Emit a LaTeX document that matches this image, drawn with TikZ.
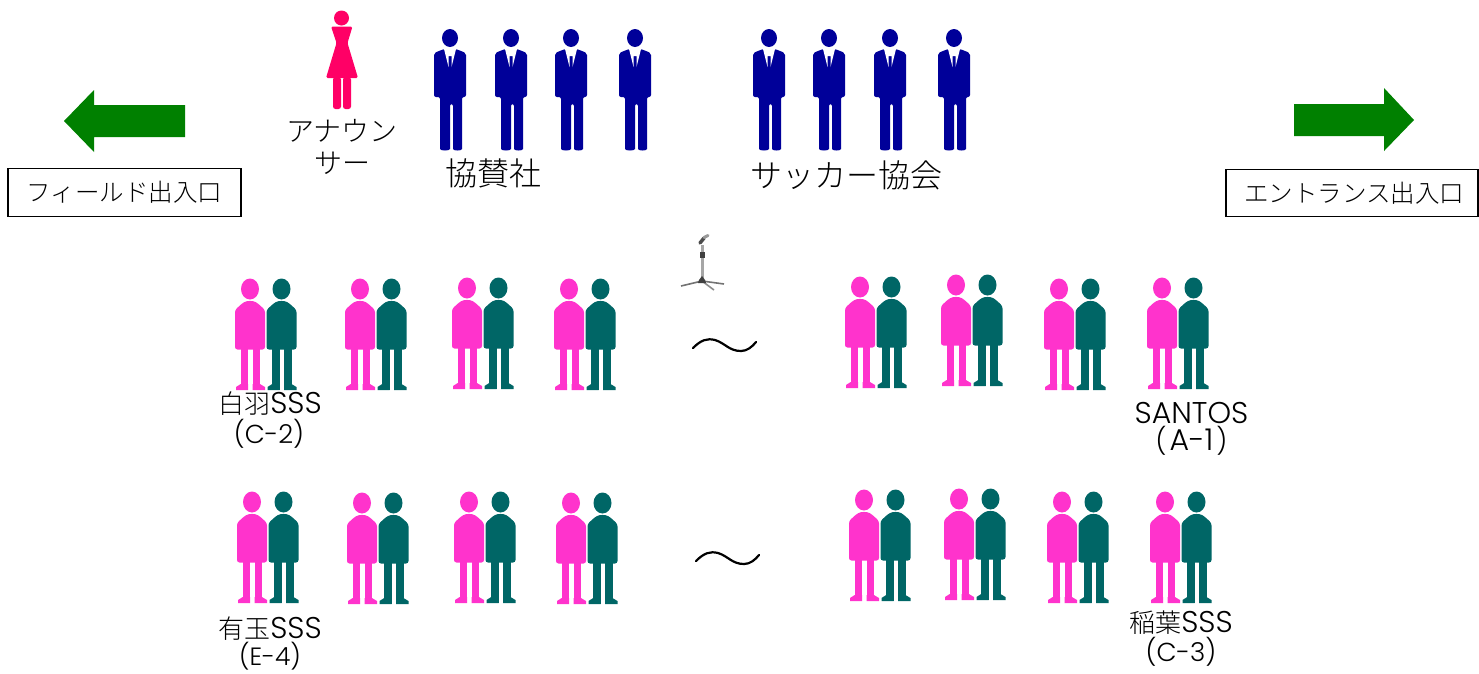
\documentclass[tikz,border=0pt]{standalone}
\usepackage{fontspec}
\setmainfont{Noto Sans CJK JP Light}
\newfontfamily\latinf{Poppins Light}
\newcommand{\lat}[1]{{\fontsize{30}{30}\selectfont\latinf #1}}
\definecolor{navyman}{HTML}{000099}
\definecolor{rosewoman}{HTML}{FF0066}
\definecolor{pinkp}{HTML}{FF33CC}
\definecolor{tealp}{HTML}{006666}
\definecolor{greenarrow}{HTML}{008000}
\tikzset{
 lbl/.style={inner sep=0pt,align=center,text=black,font=\fontsize{#1}{#1}\selectfont},
 lbl/.default=24,
 labelbox/.style={draw=black,line width=1.5pt,fill=white,inner sep=0pt},
 person/.pic={
  \fill[#1] (0,0) ellipse[x radius=9,y radius=10.5];
  \fill[#1,rounded corners=2.5pt] (-15,21) -- (-8,14.5) .. controls (-3,11.5) and (3,11.5) .. (8,14.5) -- (15,21) -- (15,60.5) -- (-15,60.5) -- cycle;
  \fill[#1] (-9.3,58) rectangle (-2,101);
  \fill[#1] (2.7,58) rectangle (10,101);
  \fill[#1] (-14,101) -- (-14,98) -- (-9.3,95) -- (-2,95) -- (-2,101) -- cycle;
  \fill[#1] (15,101) -- (15,98) -- (10,95) -- (2.7,95) -- (2.7,101) -- cycle;
 },
 man/.pic={
  \fill[navyman] (0,0) ellipse[x radius=8,y radius=9];
  \fill[navyman,rounded corners=2pt] (-16,15) -- (-6,11) -- (6,11) -- (16,15) -- (16,59) -- (12,59) -- (12,109) .. controls (12,113) and (3,113) .. (3,109) -- (3,66) -- (0,66) -- (0,109) .. controls (0,113) and (-10,113) .. (-10,109) -- (-10,59) -- (-16,59) -- cycle;
  \fill[white] (-6,11) -- (6,11) -- (1.5,29) -- (1.5,18) -- (-1.5,18) -- (-1.5,29) -- cycle;
 },
 woman/.pic={
  \fill[rosewoman] (0,0) circle[radius=7.5];
  \fill[rosewoman,rounded corners=1.5pt] (-10.5,8.5) -- (11,8.5) -- (6,25) -- (16.5,60) -- (-15.5,60) -- (-5,25) -- cycle;
  \fill[rosewoman,rounded corners=2.5pt] (-8.5,59) -- (-0.5,59) -- (-0.5,91) -- (-8.5,91) -- cycle;
  \fill[rosewoman,rounded corners=2.5pt] (1.5,59) -- (9.5,59) -- (9.5,91) -- (1.5,91) -- cycle;
 },
 tilde/.pic={
  \draw[line width=2.2pt,line cap=round] (0,0) .. controls (8,-8) and (14,-10) .. (22,-8) .. controls (32,-5) and (36,3) .. (48,3) .. controls (54,3) and (59,-1) .. (63,-6);
 },
 pics/pairfig/.style={code={
  \pic at (0,0) {person=pinkp};
  \pic at (31.5,0) {person=tealp};
 }},
}
\begin{document}
\begin{tikzpicture}[x=1pt,y=-1pt]
\useasboundingbox (0,0) rectangle (1479,673);
% arrows
\fill[greenarrow] (185,105) -- (94,105) -- (94,90) -- (64,121) -- (94,152) -- (94,137) -- (185,137) -- cycle;
\fill[greenarrow] (1294,104) -- (1384,104) -- (1384,88) -- (1414,120) -- (1384,151) -- (1384,136) -- (1294,136) -- cycle;
% boxes
\node[labelbox,lbl=24.5,minimum width=233pt,minimum height=48pt] (fieldgate) at (124.5,192.5) {フィールド出入口};
\node[labelbox,lbl=24.5,minimum width=252pt,minimum height=47pt] (entrancegate) at (1352,193) {\hspace*{4pt}エントランス出入口};
% announcer and men
\pic at (341.5,18) {woman};
\foreach \x in {450,511,571,635,769,829,890,954} \pic at (\x,38) {man};
% labels top
\node[lbl=28] (announcer) at (342,147) {アナウン\\[4pt]サー};
\node[lbl=32] (sponsor) at (493,173) {協賛社};
\node[lbl=32] (association) at (846,175) {サッカー協会};
% mic
\draw[black!35,line width=3pt] (702,245) -- (702,279);
\draw[black!55,line width=1.6pt] (681,286) -- (702,281) -- (724,284);
\draw[black!45,line width=1.6pt] (702,281) -- (714,290);
\fill[black!75] (700,252) rectangle (704.5,258);
\fill[black!75] (699,280) -- (702,276) -- (705,280) -- (706,283) -- (698,283) -- cycle;
\draw[black!70,line width=3.5pt,line cap=round] (700,243) -- (704,238);
\draw[black!40,line width=3pt,line cap=round] (704,237.5) -- (708,235.5);
% tildes
\pic at (693,348) {tilde};
\pic at (696,561) {tilde};
% row 1
\foreach \x/\y in {250/289,360/289,467/288,569/289,860/287,956/285,1059/289,1162/288} \pic at (\x,\y) {pairfig};
% row 2
\foreach \x/\y in {252/502,362/503,469/502,571/503,864/500,959/499,1062/502,1165/502} \pic at (\x,\y) {pairfig};
% team labels
\node[lbl=26] (t1) at (270,404) {白羽\lat{SSS}};
\node[lbl=26] (t1b) at (269,434) {{\latinf (C-2)}};
\node[lbl=25] (t2) at (1191.5,413) {\lat{SANTOS}};
\node[lbl=26] (t2b) at (1191.5,441) {{\latinf (\kern3pt\lat{A-1}\kern3pt)}};
\node[lbl=26] (t3) at (270,629) {有玉\lat{SSS}};
\node[lbl=25] (t3b) at (270,656) {{\latinf (E-4)}};
\node[lbl=26] (t4) at (1181,623) {稲葉\lat{SSS}};
\node[lbl=26] (t4b) at (1181,652) {{\latinf (C-3)}};
\end{tikzpicture}
\end{document}
